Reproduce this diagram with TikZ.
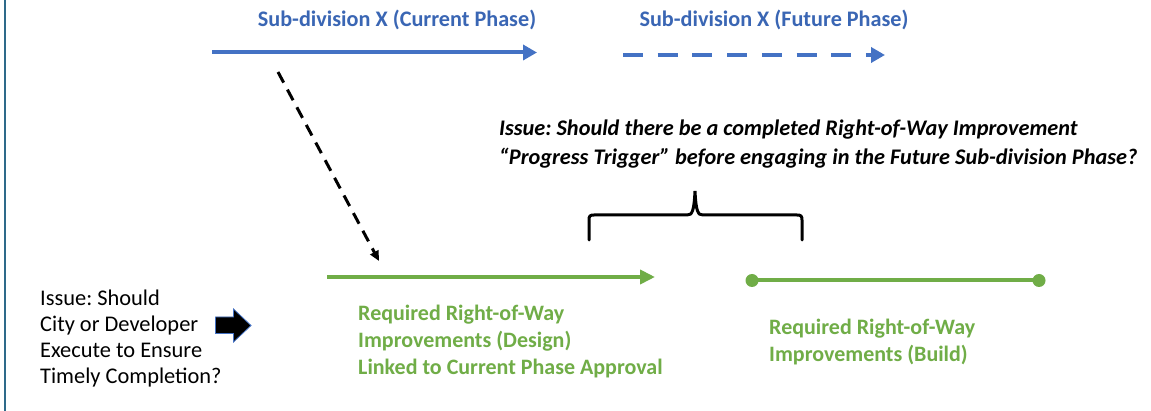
\documentclass[tikz,border=0pt]{standalone}
\usepackage{fontspec}
\setmainfont{Carlito}
\frenchspacing
\usetikzlibrary{arrows.meta}
\definecolor{lineblue}{HTML}{4472C4}
\definecolor{textblue}{HTML}{3A66B4}
\definecolor{leafgreen}{HTML}{70AD47}
\definecolor{edgeteal}{HTML}{2E6A8A}
\begin{document}
\begin{tikzpicture}[x=1pt,y=-1pt,
  phaseline/.style={lineblue, line width=4pt, -{Triangle[length=14pt,width=15pt]}},
  phasedash/.style={phaseline, dash pattern=on 20pt off 14.7pt},
  linkdash/.style={black, line width=3pt, dash pattern=on 12pt off 8pt, -{Triangle[length=10pt,width=9pt]}},
  rowline/.style={leafgreen, line width=4pt, -{Triangle[length=15pt,width=14pt]}},
  dotline/.style={leafgreen, line width=4pt},
  bracepath/.style={black, line width=3pt, line cap=round},
  bluetitle/.style={textblue, font=\fontsize{22.2}{26}\selectfont\bfseries, inner sep=0pt},
  greentext/.style={leafgreen, font=\fontsize{22}{27}\selectfont\bfseries, align=left, inner sep=0pt, anchor=base west},
  plaintext/.style={black, font=\fontsize{22.4}{26}\selectfont, align=left, inner sep=0pt, anchor=base west},
  issuetext/.style={black, font=\fontsize{22.3}{29}\selectfont\bfseries\itshape, align=left, inner sep=0pt, anchor=base west}
]
\useasboundingbox (0,0) rectangle (1151,411);
\fill[white] (0,0) rectangle (1151,411);
% frame edge on the left
\draw[edgeteal, line width=2pt] (4.5,0) -- (4.5,411);

% phase titles
\node[bluetitle] (curtitle) at (397,20) {Sub-division X (Current Phase)};
\node[bluetitle] (futtitle) at (774,20) {Sub-division X (Future Phase)};

% phase timelines
\coordinate (curA) at (212,52.5);
\coordinate (curB) at (537,52.5);
\coordinate (futA) at (623,55);
\coordinate (futB) at (885,55);
\draw[phaseline] (curA) -- (curB);
\draw[phasedash] (futA) -- (futB);

% link from current phase to design row
\coordinate (linkA) at (278,72);
\coordinate (linkB) at (379,261);
\draw[linkdash] (linkA) -- (linkB);

% issue statement over the brace (base = last line)
\node[issuetext] (issue) at (499,165) {Issue: Should there be a completed Right-of-Way Improvement\\``Progress Trigger'' before engaging in the Future Sub-division Phase?};

% brace
\draw[bracepath] (589,240) -- (589,220) .. controls (589,216) and (590,215) .. (594,215)
  -- (687,215) .. controls (692,215) and (694,212) .. (695,191)
  .. controls (696,212) and (698,215) .. (703,215)
  -- (797,215) .. controls (801,215) and (802,216) .. (802,220) -- (802,240);

% right-of-way rows
\coordinate (desA) at (327,277);
\coordinate (desB) at (655,277);
\draw[rowline] (desA) -- (desB);
\coordinate (bldA) at (752,280.5);
\coordinate (bldB) at (1039,280.5);
\draw[dotline] (bldA) -- (bldB);
\fill[leafgreen] (bldA) circle (6.5pt);
\fill[leafgreen] (bldB) circle (6.5pt);

\node[greentext] (design) at (358,374) {Required Right-of-Way\\Improvements (Design)\\Linked to Current Phase Approval};
\node[greentext] (build) at (769,362) {Required Right-of-Way\\Improvements (Build)};

% question on the left with block arrow
\node[plaintext] (question) at (40,384) {Issue: Should\\City or Developer\\Execute to Ensure\\Timely Completion?};
\draw[fill=black, draw=lineblue, line width=0.8pt]
  (215.5,317) -- (233.5,317) -- (233.5,309) -- (251,325.5) -- (233.5,342) -- (233.5,333.5) -- (215.5,333.5) -- cycle;
\end{tikzpicture}
\end{document}
